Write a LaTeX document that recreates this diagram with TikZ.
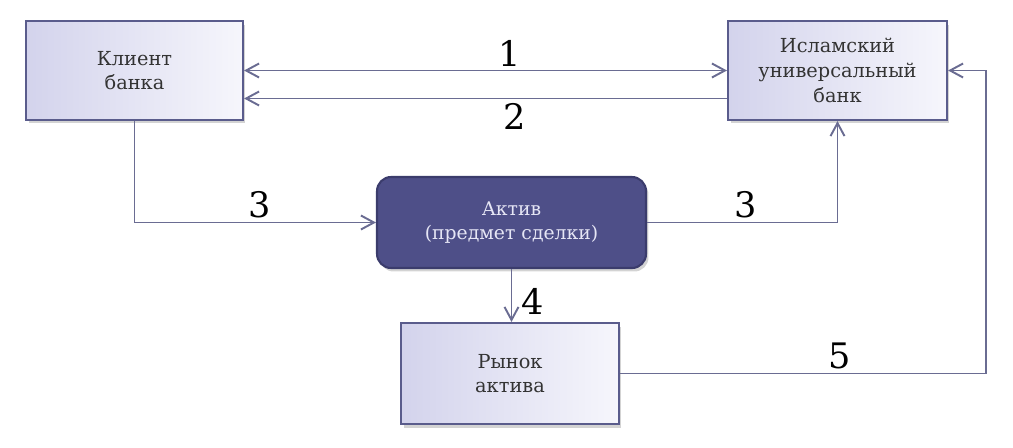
\documentclass[tikz,border=0pt]{standalone}
\usepackage{fontspec}
\setmainfont{DejaVu Serif}
\newfontfamily\boxfont{DejaVu Serif}
\usetikzlibrary{arrows.meta, positioning, shadows}
\definecolor{boxEdge}{HTML}{5A5C8C}
\definecolor{boxLav}{HTML}{D3D3EC}
\definecolor{boxLight}{HTML}{F6F6FC}
\definecolor{boxText}{HTML}{333333}
\definecolor{assetFill}{HTML}{4E4F88}
\definecolor{assetEdge}{HTML}{3B3C6C}
\definecolor{assetText}{HTML}{E6E6F5}
\definecolor{lineCol}{HTML}{6A6C92}
\tikzset{
  arrowL/.style={-{Straight Barb[length=2.6mm, width=2.8mm]}, lineCol, line width=1.1pt},
  arrowLR/.style={{Straight Barb[length=2.6mm, width=2.8mm]}-{Straight Barb[length=2.6mm, width=2.8mm]},
                  lineCol, line width=1.1pt},
  boxL/.style={rectangle, draw=boxEdge, line width=1.2pt, left color=boxLav, right color=boxLight,
               text=boxText, align=center, font=\boxfont\fontsize{11}{14}\selectfont, inner sep=2pt,
               drop shadow={shadow xshift=0.5mm, shadow yshift=-0.7mm, opacity=0.35}},
  boxD/.style={rectangle, rounded corners=8pt, draw=assetEdge, line width=1.2pt, fill=assetFill,
               text=assetText, align=center, font=\boxfont\fontsize{10.7}{13.8}\selectfont, inner sep=2pt,
               drop shadow={shadow xshift=0.5mm, shadow yshift=-0.7mm, opacity=0.35}},
  numL/.style={font=\boxfont\fontsize{20}{24}\selectfont, text=black, inner sep=2pt},
}
\begin{document}
\begin{tikzpicture}[x=0.02cm, y=-0.02cm]
    \useasboundingbox (0,0) rectangle (1013,447);
    \node[boxL, minimum width=4.34cm, minimum height=1.98cm] (klient) at (134.5,70.5)
      {Клиент\\банка};
    \node[boxL, minimum width=4.38cm, minimum height=1.98cm] (bank) at (837.5,70.5)
      {Исламский\\универсальный\\банк};
    \node[boxD, minimum width=5.38cm, minimum height=1.82cm] (aktiv) at (511.5,222.5)
      {Актив\\(предмет сделки)};
    \node[boxL, minimum width=4.36cm, minimum height=2.02cm] (rynok) at (510,373.5)
      {Рынок\\актива};
    \coordinate (turn) at (986,0);

    \draw[arrowLR] (klient.east) -- node[numL, pos=0.55, above] (n1) {1} (bank.west);
    \draw[arrowL] ([yshift=-0.56cm]bank.west) -- node[numL, pos=0.44, below] (n2) {2} ([yshift=-0.56cm]klient.east);
    \draw[arrowL] (klient.south) |- node[numL, pos=0.76, above] (n3a) {3} (aktiv.west);
    \draw[arrowL] (aktiv.east) -| node[numL, pos=0.26, above] (n3b) {3} (bank.south);
    \draw[arrowL] (aktiv.south) -- node[numL, pos=0.62, right, xshift=3pt] (n4) {4} (aktiv.south |- rynok.north);
    \draw[arrowL] (rynok.east) -| node[numL, pos=0.3, above] (n5) {5} (turn |- bank.east) -- (bank.east);
  \end{tikzpicture}
\end{document}
